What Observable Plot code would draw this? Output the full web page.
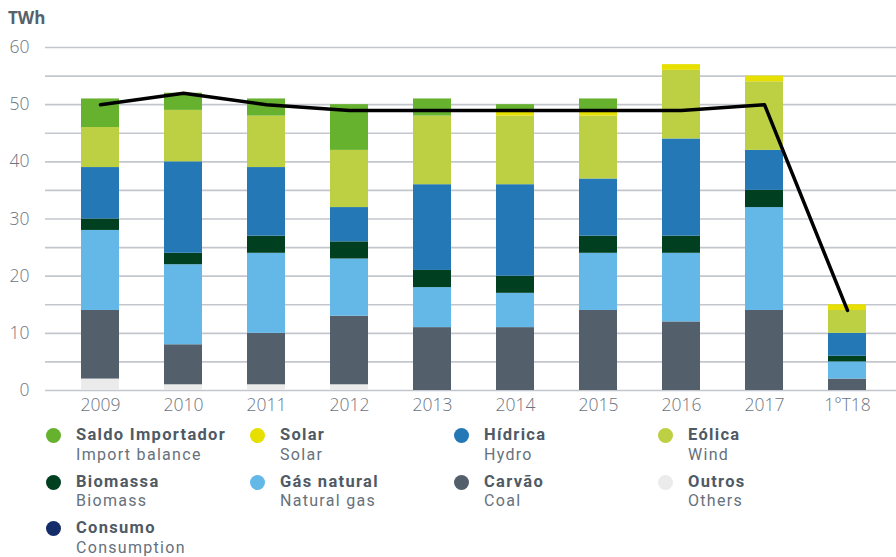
<!DOCTYPE html>
<html>
<head>
<meta charset="utf-8">
<script src="https://cdn.jsdelivr.net/npm/d3@7"></script>
<script src="https://cdn.jsdelivr.net/npm/@observablehq/plot@0.6"></script>
<style>
  html, body { margin: 0; padding: 0; background: #fff; }
  body { width: 896px; height: 557px; position: relative; overflow: hidden; font-family: "Open Sans", sans-serif; }
  #unit { position: absolute; left: 8px; top: 6px; font-size: 17px; font-weight: 700; color: #56616c; }
  #chart { position: absolute; left: 0; top: 0; }
  .lg { position: absolute; }
  .lg .dot { position: absolute; width: 15px; height: 15px; border-radius: 50%; }
  .lg .txt { position: absolute; white-space: nowrap; line-height: 19.5px; font-family: Roboto, sans-serif; }
  .lg .t1 { font-size: 16.5px; font-weight: 700; color: #4f5a65; letter-spacing: 1.3px; }
  .lg .t2 { font-size: 16px; font-weight: 400; color: #66717c; letter-spacing: 1.3px; }
</style>
</head>
<body>
<div id="chart"></div>
<div id="unit">TWh</div>
<div id="legend"></div>
<script>
const periods = ["2009","2010","2011","2012","2013","2014","2015","2016","2017","1°T18"];
const outros   = [2, 1, 1, 1, 0, 0, 0, 0, 0, 0];
const carvao   = [12, 7, 9, 12, 11, 11, 14, 12, 14, 2];
const gas      = [14, 14, 14, 10, 7, 6, 10, 12, 18, 3];
const biomassa = [2, 2, 3, 3, 3, 3, 3, 3, 3, 1];
const hidrica  = [9, 16, 12, 6, 15, 16, 10, 17, 7, 4];
const eolica   = [7, 9, 9, 10, 12, 12, 11, 12, 12, 4];
const solar    = [0, 0, 0, 0, 0, 1, 1, 1, 1, 1];
const saldo    = [5, 3, 3, 8, 3, 1, 2, 0, 0, 0];
const consumo  = [50, 52, 50, 49, 49, 49, 49, 49, 50, 14];
const yTicks   = [0, 10, 20, 30, 40, 50, 60];
const gridTicks = [0, 5, 10, 15, 20, 25, 30, 35, 40, 45, 50, 55, 60];

const seriesNames = ["Outros", "Carvão", "Gás natural", "Biomassa", "Hídrica", "Eólica", "Solar", "Saldo Importador"];
const seriesValues = [outros, carvao, gas, biomassa, hidrica, eolica, solar, saldo];
const seriesColors = ["#ebebeb", "#535f6b", "#63b8e8", "#003f1f", "#2478b5", "#bdd043", "#e6df00", "#66b22f"];

const legendItems = [
  ["Saldo Importador", "Import balance", "#66b22f"],
  ["Solar", "Solar", "#e6df00"],
  ["Hídrica", "Hydro", "#2478b5"],
  ["Eólica", "Wind", "#bdd043"],
  ["Biomassa", "Biomass", "#003f1f"],
  ["Gás natural", "Natural gas", "#63b8e8"],
  ["Carvão", "Coal", "#535f6b"],
  ["Outros", "Others", "#ebebeb"],
  ["Consumo", "Consumption", "#142c6a"]
];

const rows = [];
seriesNames.forEach((s, si) => {
  periods.forEach((p, pi) => rows.push({period: p, series: s, value: seriesValues[si][pi]}));
});
const lineData = periods.map((p, i) => ({period: p, value: consumo[i]}));

const chart = Plot.plot({
  width: 896,
  height: 420,
  marginLeft: 45,
  marginRight: 0,
  marginTop: 47,
  marginBottom: 30,
  style: {fontFamily: "'Open Sans', sans-serif", fontSize: "17.5px", color: "#6b7580", background: "transparent"},
  x: {domain: periods, paddingInner: 0.54, paddingOuter: 0.3965, align: 0.55, label: null},
  y: {domain: [0, 60], label: null},
  color: {domain: seriesNames, range: seriesColors},
  marks: [
    Plot.gridY(gridTicks, {stroke: "#c3c7cd", strokeOpacity: 1, strokeWidth: 1.6}),
    Plot.barY(rows, Plot.stackY({x: "period", y: "value", fill: "series", order: seriesNames})),
    Plot.lineY(lineData, {x: "period", y: "value", stroke: "#000", strokeWidth: 3.5, strokeLinejoin: "round"}),
    Plot.axisY(yTicks, {tickSize: 0, tickPadding: 16, fill: "#6b7580", fontWeight: 300, label: null}),
    Plot.axisX({tickSize: 0, tickPadding: 8, fill: "#6b7580", fontWeight: 300, label: null})
  ]
});
document.getElementById("chart").appendChild(chart);

const legend = document.getElementById("legend");
const dotX = [53, 257, 461, 665];
legendItems.forEach(([t1, t2, c], i) => {
  const col = i % 4, row = Math.floor(i / 4);
  const cx = dotX[col], cy = 435.5 + row * 46.5;
  const el = document.createElement("div");
  el.className = "lg";
  el.innerHTML = `<div class="dot" style="left:${cx - 7.5}px;top:${cy - 7.5}px;background:${c}"></div>` +
    `<div class="txt" style="left:${cx + 23}px;top:${cy - 10.5}px"><span class="t1">${t1}</span><br><span class="t2">${t2}</span></div>`;
  legend.appendChild(el);
});
</script>
</body>
</html>
